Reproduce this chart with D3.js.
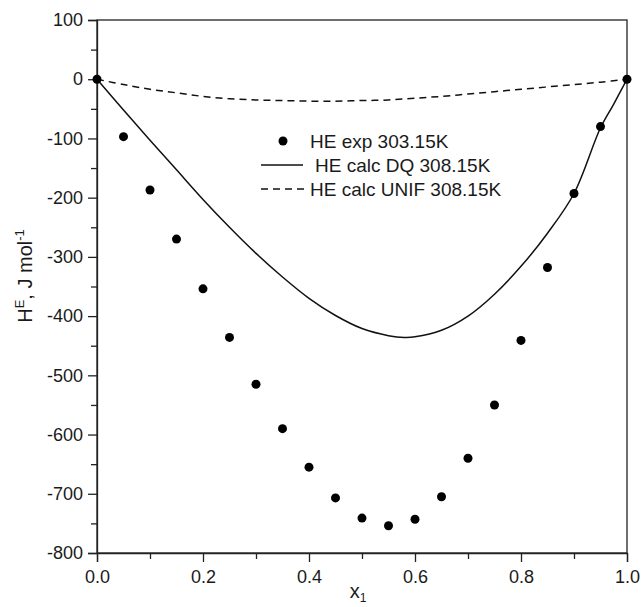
<!DOCTYPE html>
<html><head><meta charset="utf-8">
<script src="https://cdn.jsdelivr.net/npm/d3@7"></script>
<style>body{margin:0;background:#fff}svg{display:block}text{font-family:"Liberation Sans",Arial,sans-serif;fill:#1a1a1a}</style>
</head><body>
<svg id="c" width="643" height="607"></svg>
<script>
const expX = [0,0.05,0.1,0.15,0.2,0.25,0.3,0.35,0.4,0.45,0.5,0.55,0.6,0.65,0.7,0.75,0.8,0.85,0.9,0.95,1.0];
const expH = [0,-97,-187,-270,-354,-436,-515,-590,-655,-707,-741,-754,-743,-705,-640,-550,-441,-318,-193,-80,0];
const dqX = [0,0.05,0.1,0.15,0.2,0.25,0.3,0.35,0.4,0.45,0.5,0.55,0.58,0.6,0.65,0.7,0.75,0.8,0.85,0.9,0.95,0.975,1.0];
const dqH = [0,-52,-103,-153,-203,-250,-294,-334,-370,-399,-421,-433,-436,-435,-424,-400,-363,-316,-260,-193,-82,-42,0];
const unX = [0,0.05,0.1,0.15,0.2,0.25,0.3,0.35,0.4,0.45,0.5,0.55,0.6,0.65,0.7,0.75,0.8,0.85,0.9,0.95,1.0];
const unH = [0,-9,-17,-23,-29,-33,-35,-36,-37,-37,-36,-35,-32,-29,-25,-21,-17,-13,-9,-5,0];
const xTicks = [0,0.2,0.4,0.6,0.8,1.0];
const yTicks = [100,0,-100,-200,-300,-400,-500,-600,-700,-800];
const legendLabels = ["HE exp 303.15K","HE calc DQ 308.15K","HE calc UNIF 308.15K"];

const svg = d3.select("#c");
const L=97,R=627,T=20,B=553;
const x = d3.scaleLinear().domain([0,1]).range([L,R]);
const y = d3.scaleLinear().domain([-800,100]).range([B,T]);
const ink = "#1a1a1a";

// frame
svg.append("rect").attr("x",L).attr("y",T).attr("width",R-L).attr("height",B-T)
  .attr("fill","none").attr("stroke","#222").attr("stroke-width",1.3);

// axes
const fs = "18px";
svg.append("g").attr("transform",`translate(0,${B})`)
  .call(d3.axisBottom(x).tickValues(xTicks).tickFormat(d=>d.toFixed(1)).tickSize(9).tickPadding(8));
svg.append("g").attr("transform",`translate(0,${B})`)
  .call(d3.axisBottom(x).tickValues(d3.range(0.1,1,0.2)).tickFormat("").tickSize(6))
  .select(".domain").remove();
svg.append("g").attr("transform",`translate(${L},0)`)
  .call(d3.axisLeft(y).tickValues(yTicks).tickFormat(d=>String(d)).tickSize(9).tickPadding(5));
svg.append("g").attr("transform",`translate(${L},0)`)
  .call(d3.axisLeft(y).tickValues(d3.range(50,-800,-100)).tickFormat("").tickSize(6))
  .select(".domain").remove();
svg.selectAll(".tick text").attr("font-size",fs).attr("font-family","Liberation Sans, Arial, sans-serif").attr("fill",ink);
svg.selectAll(".tick line, .domain").attr("stroke","#222").attr("stroke-width",1.3);

// axis titles
const xt = svg.append("text").attr("x",358).attr("y",598).attr("text-anchor","middle").attr("font-size","20px").attr("fill",ink);
xt.append("tspan").text("x");
xt.append("tspan").attr("font-size","12px").attr("dy",4).text("1");
const yt = svg.append("text").attr("transform","translate(32,276) rotate(-90)").attr("text-anchor","middle").attr("font-size","20px").attr("fill",ink);
yt.append("tspan").text("H");
yt.append("tspan").attr("font-size","13px").attr("dy",-8).text("E");
yt.append("tspan").attr("dy",8).text(", J mol");
yt.append("tspan").attr("font-size","13px").attr("dy",-8).text("-1");

// lines
const line = d3.line().x(d=>x(d[0])).y(d=>y(d[1])).curve(d3.curveCatmullRom.alpha(0.5));
svg.append("path").datum(dqX.map((v,i)=>[v,dqH[i]])).attr("d",line)
  .attr("fill","none").attr("stroke","#111").attr("stroke-width",1.5);
svg.append("path").datum(unX.map((v,i)=>[v,unH[i]])).attr("d",line)
  .attr("fill","none").attr("stroke","#111").attr("stroke-width",1.5).attr("stroke-dasharray","7,5");

// points
svg.append("g").selectAll("circle").data(expX.map((v,i)=>[v,expH[i]])).join("circle")
  .attr("cx",d=>x(d[0])).attr("cy",d=>y(d[1])).attr("r",4.5).attr("fill","#000");

// legend
const lg = svg.append("g");
lg.append("circle").attr("cx",283).attr("cy",141).attr("r",4.5).attr("fill","#000");
lg.append("text").attr("x",310).attr("y",148).attr("font-size","19px").attr("fill",ink).text(legendLabels[0]);
lg.append("line").attr("x1",261).attr("x2",303).attr("y1",165).attr("y2",165).attr("stroke","#111").attr("stroke-width",1.5);
lg.append("text").attr("x",315).attr("y",172).attr("font-size","19px").attr("fill",ink).text(legendLabels[1]);
lg.append("line").attr("x1",261).attr("x2",307).attr("y1",189).attr("y2",189).attr("stroke","#111").attr("stroke-width",1.5).attr("stroke-dasharray","7,5");
lg.append("text").attr("x",310).attr("y",196).attr("font-size","19px").attr("fill",ink).text(legendLabels[2]);
</script>
</body></html>
